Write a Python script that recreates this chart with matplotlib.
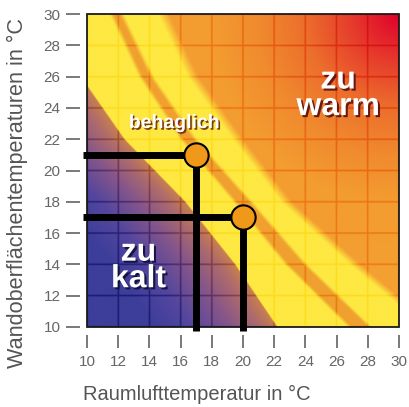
import matplotlib
matplotlib.use("Agg")
import matplotlib.pyplot as plt
import matplotlib.patheffects as pe
from matplotlib.colors import to_rgb
from matplotlib.patches import Rectangle
import numpy as np

plt.rcParams['font.family'] = ['Liberation Sans', 'DejaVu Sans']

# axis ticks (both axes in degC)
x_ticks = [10, 12, 14, 16, 18, 20, 22, 24, 26, 28, 30]
y_ticks = [10, 12, 14, 16, 18, 20, 22, 24, 26, 28, 30]

# comfort zone outline, x position (air temp) at a given wall temp
band_y = [10, 14, 18, 22, 26, 30]
edge_x = [22.2, 19.5, 16.3, 12.4, 9.6, 7.2]       # sharp lower-left edge of the yellow zone
stripe_x = [27.5, 23.4, 20.0, 16.5, 13.8, 11.9]   # orange stripe inside the zone
stripe_hw = [0.65, 0.6, 0.5, 0.42, 0.36, 0.32]
outer_x = [32.0, 27.2, 22.8, 19.7, 16.8, 14.9]    # soft upper-right edge

# the two example points
air_temp = [17, 20]
wall_temp = [21, 17]


def ramp(v, pos, hexes):
    cols = np.array([to_rgb(h) for h in hexes])
    return np.stack([np.interp(v, pos, cols[:, i]) for i in range(3)], axis=-1)


# build the background field
N = 800
g = np.linspace(10, 30, N)
X, Y = np.meshgrid(g, g)
e = np.interp(Y, band_y, edge_x)
m = np.interp(Y, band_y, stripe_x)
hw = np.interp(Y, band_y, stripe_hw)
o = np.interp(Y, band_y, outer_x)

cold = ramp(e - X, [0, 1, 3, 5.5, 8],
            ['#c8804e', '#b06c6a', '#86568a', '#54469e', '#3c3e9a'])
r = np.hypot(30 - X, 30 - Y)
warm = ramp(r, [0, 3, 6, 9, 12, 20],
            ['#e0002c', '#e63a2c', '#ec6e2c', '#f08a2e', '#f39c30', '#f4a232'])
img = np.where((X < e)[..., None], cold, warm)

w_in = np.clip((X - e) / 0.08 + 0.5, 0, 1)
w_out = np.clip((o - X) / 0.7 + 0.5, 0, 1)
wy = (w_in * w_out)[..., None]
img = img * (1 - wy) + np.array(to_rgb('#fee842')) * wy

ws = np.clip((hw - np.abs(X - m)) / 0.3 + 0.5, 0, 1)[..., None]
img = img * (1 - ws) + np.array(to_rgb('#f0a02e')) * ws

# grid lines darken whatever is below them
dx = np.min([np.abs(X - t) for t in x_ticks], axis=0)
dy = np.min([np.abs(Y - t) for t in y_ticks], axis=0)
gw = np.clip((0.05 - np.minimum(dx, dy)) / 0.05 + 0.5, 0, 1)[..., None]
img = img * (1 - gw) + (img ** 1.6) * gw

fig = plt.figure(figsize=(4.1, 4.07), dpi=100)
ax = fig.add_axes([87 / 410, 80 / 407, 312 / 410, 313 / 407])
ax.imshow(img, extent=[10, 30, 10, 30], origin='lower', aspect='auto',
          interpolation='bilinear', zorder=0)
ax.set_xlim(10, 30)
ax.set_ylim(10, 30)

for s in ax.spines.values():
    s.set_visible(False)
ax.spines['left'].set_position(('outward', 5))
ax.spines['bottom'].set_position(('outward', 6))
ax.add_patch(Rectangle((0, 0), 1, 1, transform=ax.transAxes, fill=False,
                       ec='#1a1a1a', lw=1.3, zorder=5, clip_on=False))

ax.set_xticks(x_ticks)
ax.set_yticks(y_ticks)
ax.tick_params(axis='both', direction='out', length=10, width=1.1,
               color='#555555', labelcolor='#666666', labelsize=11)
ax.tick_params(axis='x', length=9, pad=5)
ax.tick_params(axis='y', pad=4)

# guide lines and the two points
lo = 10 - 0.25
for xv, yv in zip(air_temp, wall_temp):
    ax.plot([lo, xv], [yv, yv], color='black', lw=5, solid_capstyle='butt',
            clip_on=False, zorder=6)
    ax.plot([xv, xv], [yv, lo], color='black', lw=5, solid_capstyle='butt',
            clip_on=False, zorder=6)
ax.plot(air_temp, wall_temp, 'o', ms=17.5, mfc='#f09818', mec='black',
        mew=1.5, ls='none', zorder=7, clip_on=False)

shadow_warm = [pe.SimplePatchShadow(offset=(1.5, -1.5), shadow_rgbFace='#5a1010', alpha=0.9),
               pe.Normal()]
shadow_cold = [pe.SimplePatchShadow(offset=(1.5, -1.5), shadow_rgbFace='#10103a', alpha=0.9),
               pe.Normal()]
shadow_ok = [pe.SimplePatchShadow(offset=(1.2, -1.2), shadow_rgbFace='#6a2a10', alpha=0.9),
             pe.Normal()]

ax.text(15.6, 23.0, 'behaglich', color='white', fontsize=14, fontweight='bold',
        ha='center', va='center', path_effects=shadow_ok, zorder=8)
ax.text(26.1, 24.9, 'zu\nwarm', color='white', fontsize=23, fontweight='bold',
        ha='center', va='center', linespacing=0.85, path_effects=shadow_warm, zorder=8)
ax.text(13.3, 13.9, 'zu\nkalt', color='white', fontsize=23, fontweight='bold',
        ha='center', va='center', linespacing=0.85, path_effects=shadow_cold, zorder=8)

fig.text(197 / 410, 1 - 394 / 407, 'Raumlufttemperatur in °C', color='#555555',
         fontsize=14.5, ha='center', va='center')
fig.text(17.5 / 410, 1 - 193 / 407, 'Wandoberflächentemperaturen in °C', color='#555555',
         fontsize=15.6, ha='center', va='center', rotation=90)

fig.savefig('out.png', dpi=100)
